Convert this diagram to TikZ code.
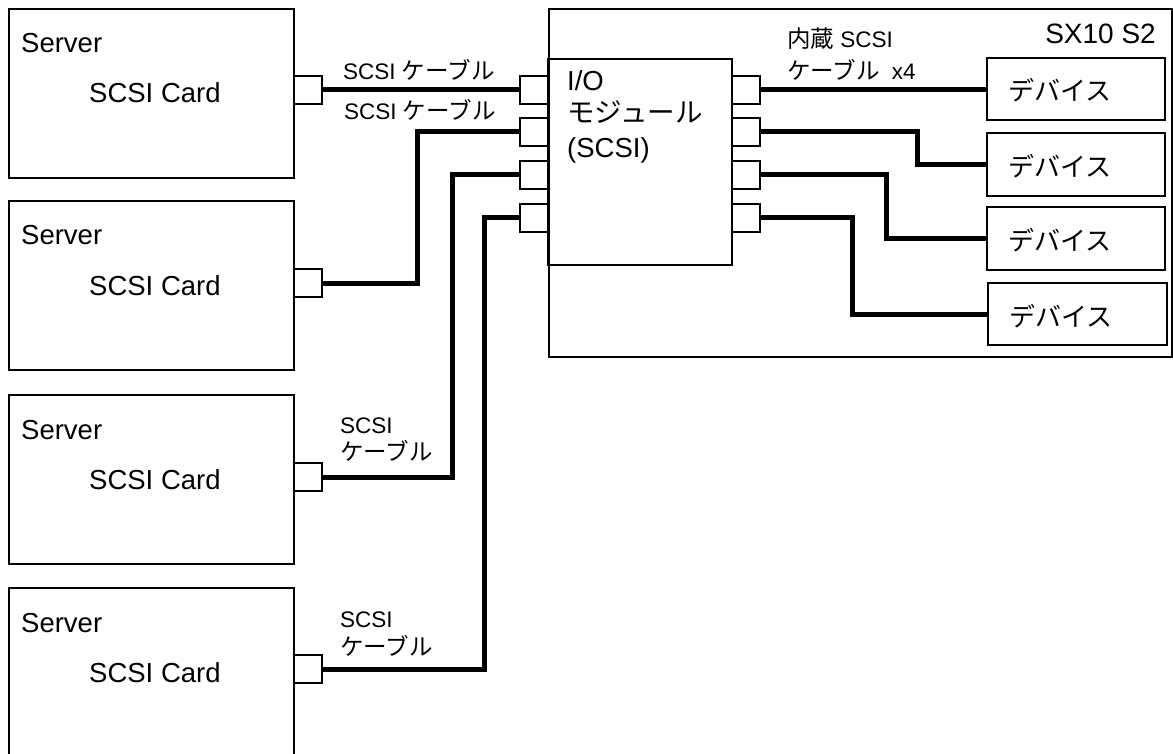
\documentclass[tikz,border=0pt]{standalone}
\usepackage{fontspec}
\setmainfont{Liberation Sans}
\newfontfamily\jp{Noto Sans CJK JP}
\newcommand{\jpl}{\jp\fontsize{23.5}{28}\selectfont}
\begin{document}
\begin{tikzpicture}[x=1pt,y=-1pt,
  box/.style={draw, line width=1.2pt, inner sep=0pt, outer sep=0pt, anchor=north west},
  srv/.style={box, minimum width=285pt, minimum height=169pt},
  port/.style={box, minimum width=28pt, minimum height=28pt},
  dev/.style={box, minimum width=178pt, minimum height=62pt},
  cable/.style={line width=5pt},
  big/.style={inner sep=0pt, anchor=base west, font=\fontsize{27.5}{32}\selectfont},
  lbl/.style={inner sep=0pt, anchor=base west, font=\fontsize{22.5}{26}\selectfont},
  dtxt/.style={inner sep=0pt, anchor=base west, font=\fontsize{26}{30}\selectfont\jp}]
\useasboundingbox (0,0) rectangle (1173,754);

% servers
\node[srv] (S1) at (9,9) {};
\node[srv] (S2) at (9,201) {};
\node[srv] (S3) at (9,395) {};
\node[srv] (S4) at (9,588) {};
\foreach \n/\t in {1/9,2/201,3/395,4/588}{
  \node[big] (sv\n) at (21,\t+44) {Server};
  \node[big] (sc\n) at (89,\t+94) {SCSI Card};
}
\node[port] (P1) at (294,76) {};
\node[port] (P2) at (294,269) {};
\node[port] (P3) at (294,463) {};
\node[port] (P4) at (294,655) {};

% enclosure
\node[box, minimum width=623pt, minimum height=348pt] (X) at (549,9) {};
\node[box, minimum width=184pt, minimum height=206pt] (M) at (548,59) {};
\node[big, font=\fontsize{28}{32}\selectfont, anchor=base east] (sx) at (1156,44) {SX10 S2};
\node[big] (io1) at (567,91) {I/O};
\node[big] (io2) at (567,123) {\jp モジュール};
\node[big] (io3) at (567,158) {(SCSI)};

\foreach \n/\t in {1/76,2/118,3/161,4/204}{
  \node[port] (L\n) at (520,\t) {};
  \node[port] (R\n) at (732,\t) {};
}

% devices
\node[dev] (D1) at (987,58) {};
\node[dev, minimum height=63pt] (D2) at (987,133) {};
\node[dev, minimum height=63pt] (D3) at (987,207) {};
\node[dev, minimum width=179pt] (D4) at (988,283) {};
\foreach \n in {1,2,3,4}{
  \node[dtxt] (dt\n) at ([xshift=21pt,yshift=-12pt]D\n.west) {デバイス};
}

% labels
\node[lbl] (l1) at (343,80) {SCSI {\jpl ケーブル}};
\node[lbl] (l2) at (344,120) {SCSI {\jpl ケーブル}};
\node[lbl] (l3a) at (340,433) {SCSI};
\node[lbl] (l3b) at (340,460) {\jpl ケーブル};
\node[lbl] (l4a) at (340,627) {SCSI};
\node[lbl] (l4b) at (340,655) {\jpl ケーブル};
\node[lbl] (in1) at (787,48) {{\jpl 内蔵} SCSI};
\node[lbl] (in2) at (787,80) {{\jpl ケーブル}\hspace{12pt}x4};

% vertical runs
\coordinate (v2) at (417,0);
\coordinate (v3) at (452,0);
\coordinate (v4) at (484,0);
\coordinate (w2) at (917,0);
\coordinate (w3) at (886,0);
\coordinate (w4) at (852,0);

% cables
\draw[cable] (P1.east) -- (L1.west);
\draw[cable] (L2.west) -- (L2.west -| v2) -- (P2.east -| v2) -- (P2.east);
\draw[cable] (L3.west) -- (L3.west -| v3) -- (P3.east -| v3) -- (P3.east);
\draw[cable] (L4.west) -- (L4.west -| v4) -- (P4.east -| v4) -- (P4.east);
\draw[cable] (R1.east) -- (R1.east -| D1.west);
\draw[cable] (R2.east) -- (R2.east -| w2) -- (D2.west -| w2) -- (D2.west);
\draw[cable] (R3.east) -- (R3.east -| w3) -- (D3.west -| w3) -- (D3.west);
\draw[cable] (R4.east) -- (R4.east -| w4) -- (D4.west -| w4) -- (D4.west);
\end{tikzpicture}
\end{document}
